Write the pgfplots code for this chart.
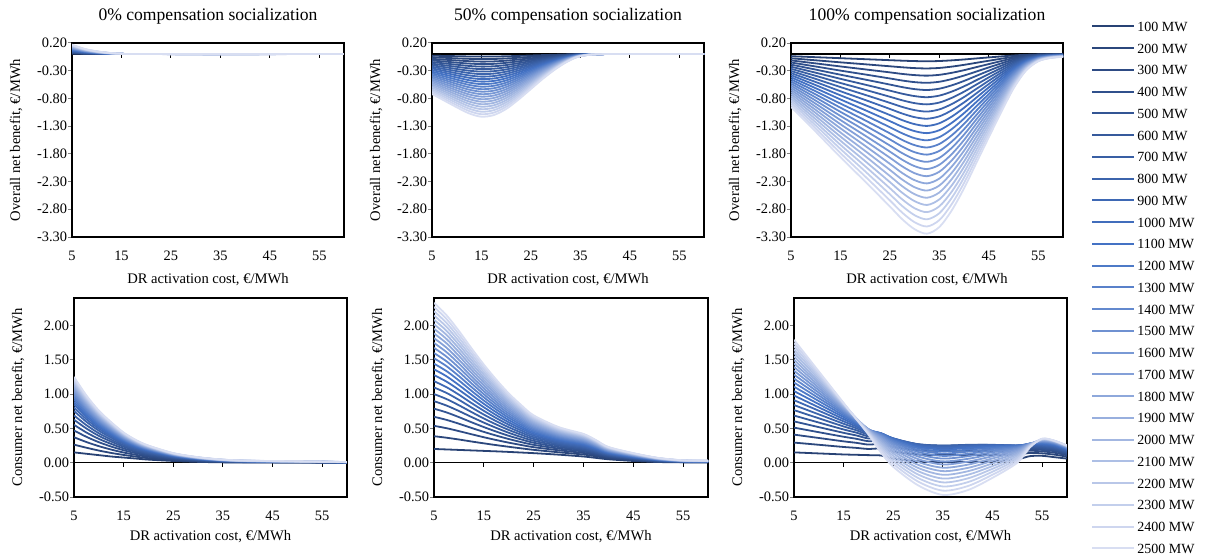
\documentclass[border=0pt]{standalone}
\usepackage{fontspec}
\setmainfont{Liberation Serif}
\usepackage{pgfplots}
\usepackage{pgfplotstable}
\pgfplotsset{compat=1.18}

\definecolor{cdark}{RGB}{40,66,116}
\definecolor{cmid}{RGB}{68,114,196}
\definecolor{clight}{RGB}{216,222,242}
\colorlet{c1}{cdark}
\colorlet{c2}{cmid!10!cdark}
\colorlet{c3}{cmid!20!cdark}
\colorlet{c4}{cmid!30!cdark}
\colorlet{c5}{cmid!40!cdark}
\colorlet{c6}{cmid!50!cdark}
\colorlet{c7}{cmid!60!cdark}
\colorlet{c8}{cmid!70!cdark}
\colorlet{c9}{cmid!80!cdark}
\colorlet{c10}{cmid!90!cdark}
\colorlet{c11}{cmid}
\colorlet{c12}{clight!7!cmid}
\colorlet{c13}{clight!14!cmid}
\colorlet{c14}{clight!21!cmid}
\colorlet{c15}{clight!29!cmid}
\colorlet{c16}{clight!36!cmid}
\colorlet{c17}{clight!43!cmid}
\colorlet{c18}{clight!50!cmid}
\colorlet{c19}{clight!57!cmid}
\colorlet{c20}{clight!64!cmid}
\colorlet{c21}{clight!71!cmid}
\colorlet{c22}{clight!79!cmid}
\colorlet{c23}{clight!86!cmid}
\colorlet{c24}{clight!93!cmid}
\colorlet{c25}{clight}

% overall net benefit, 0% socialization
\pgfplotstableread{
x y1 y2 y3 y4 y5 y6 y7 y8 y9 y10 y11 y12 y13 y14 y15 y16 y17 y18 y19 y20 y21 y22 y23 y24 y25
5 0.007 0.014 0.020 0.027 0.034 0.041 0.048 0.054 0.061 0.068 0.075 0.082 0.088 0.095 0.102 0.109 0.116 0.122 0.129 0.136 0.143 0.150 0.156 0.163 0.170
7.5 0.004 0.008 0.011 0.015 0.019 0.023 0.027 0.030 0.034 0.038 0.042 0.046 0.049 0.053 0.057 0.061 0.065 0.068 0.072 0.076 0.080 0.084 0.087 0.091 0.095
10 0.002 0.004 0.006 0.008 0.010 0.012 0.014 0.016 0.018 0.020 0.022 0.024 0.026 0.028 0.030 0.032 0.034 0.036 0.038 0.040 0.042 0.044 0.046 0.048 0.050
12.5 0.001 0.002 0.003 0.004 0.004 0.005 0.006 0.007 0.008 0.009 0.010 0.011 0.011 0.012 0.013 0.014 0.015 0.016 0.017 0.018 0.018 0.019 0.020 0.021 0.022
15 0 0.001 0.001 0.001 0.002 0.002 0.002 0.003 0.003 0.003 0.004 0.004 0.004 0.004 0.005 0.005 0.005 0.006 0.006 0.006 0.007 0.007 0.007 0.008 0.008
20 0 0 0 0 0 0 0 0 0 0 0 0 0 0 0 0 0 0 0 0 0 0 0 0 0
60 0 0 0 0 0 0 0 0 0 0 0 0 0 0 0 0 0 0 0 0 0 0 0 0 0
}\tA

% overall net benefit, 50% socialization
\pgfplotstableread{
x y1 y2 y3 y4 y5 y6 y7 y8 y9 y10 y11 y12 y13 y14 y15 y16 y17 y18 y19 y20 y21 y22 y23 y24 y25
5 -0.029 -0.058 -0.086 -0.115 -0.144 -0.173 -0.202 -0.230 -0.259 -0.288 -0.317 -0.346 -0.374 -0.403 -0.432 -0.461 -0.490 -0.518 -0.547 -0.576 -0.605 -0.634 -0.662 -0.691 -0.720
7.5 -0.034 -0.067 -0.101 -0.134 -0.168 -0.202 -0.235 -0.269 -0.302 -0.336 -0.370 -0.403 -0.437 -0.470 -0.504 -0.538 -0.571 -0.605 -0.638 -0.672 -0.706 -0.739 -0.773 -0.806 -0.840
10 -0.038 -0.077 -0.115 -0.154 -0.192 -0.230 -0.269 -0.307 -0.346 -0.384 -0.422 -0.461 -0.499 -0.538 -0.576 -0.614 -0.653 -0.691 -0.730 -0.768 -0.806 -0.845 -0.883 -0.922 -0.960
12.5 -0.043 -0.086 -0.128 -0.171 -0.214 -0.257 -0.300 -0.342 -0.385 -0.428 -0.471 -0.514 -0.556 -0.599 -0.642 -0.685 -0.728 -0.770 -0.813 -0.856 -0.899 -0.942 -0.984 -1.027 -1.070
15 -0.045 -0.090 -0.136 -0.181 -0.226 -0.271 -0.316 -0.362 -0.407 -0.452 -0.497 -0.542 -0.588 -0.633 -0.678 -0.723 -0.768 -0.814 -0.859 -0.904 -0.949 -0.994 -1.040 -1.085 -1.130
17.5 -0.044 -0.088 -0.132 -0.176 -0.220 -0.264 -0.308 -0.352 -0.396 -0.440 -0.484 -0.528 -0.572 -0.616 -0.660 -0.704 -0.748 -0.792 -0.836 -0.880 -0.924 -0.968 -1.012 -1.056 -1.100
20 -0.040 -0.079 -0.119 -0.158 -0.198 -0.238 -0.277 -0.317 -0.356 -0.396 -0.436 -0.475 -0.515 -0.554 -0.594 -0.634 -0.673 -0.713 -0.752 -0.792 -0.832 -0.871 -0.911 -0.950 -0.990
22.5 -0.033 -0.066 -0.098 -0.131 -0.164 -0.197 -0.230 -0.262 -0.295 -0.328 -0.361 -0.394 -0.426 -0.459 -0.492 -0.525 -0.558 -0.590 -0.623 -0.656 -0.689 -0.722 -0.754 -0.787 -0.820
25 -0.025 -0.050 -0.076 -0.101 -0.126 -0.151 -0.176 -0.202 -0.227 -0.252 -0.277 -0.302 -0.328 -0.353 -0.378 -0.403 -0.428 -0.454 -0.479 -0.504 -0.529 -0.554 -0.580 -0.605 -0.630
27.5 -0.018 -0.035 -0.053 -0.070 -0.088 -0.106 -0.123 -0.141 -0.158 -0.176 -0.194 -0.211 -0.229 -0.246 -0.264 -0.282 -0.299 -0.317 -0.334 -0.352 -0.370 -0.387 -0.405 -0.422 -0.440
30 -0.011 -0.022 -0.032 -0.043 -0.054 -0.065 -0.076 -0.086 -0.097 -0.108 -0.119 -0.130 -0.140 -0.151 -0.162 -0.173 -0.184 -0.194 -0.205 -0.216 -0.227 -0.238 -0.248 -0.259 -0.270
32.5 -0.005 -0.010 -0.016 -0.021 -0.026 -0.031 -0.036 -0.042 -0.047 -0.052 -0.057 -0.062 -0.068 -0.073 -0.078 -0.083 -0.088 -0.094 -0.099 -0.104 -0.109 -0.114 -0.120 -0.125 -0.130
35 -0.002 -0.003 -0.005 -0.006 -0.008 -0.010 -0.011 -0.013 -0.014 -0.016 -0.018 -0.019 -0.021 -0.022 -0.024 -0.026 -0.027 -0.029 -0.030 -0.032 -0.034 -0.035 -0.037 -0.038 -0.040
40 0 0 0 0 0 0 0 0 0 0 0 0 0 0 0 0 0 0 0 0 0 0 0 0 0
60 0 0 0 0 0 0 0 0 0 0 0 0 0 0 0 0 0 0 0 0 0 0 0 0 0
}\tB

% overall net benefit, 100% socialization
\pgfplotstableread{
x y1 y2 y3 y4 y5 y6 y7 y8 y9 y10 y11 y12 y13 y14 y15 y16 y17 y18 y19 y20 y21 y22 y23 y24 y25
5 -0.038 -0.076 -0.114 -0.152 -0.190 -0.228 -0.266 -0.304 -0.342 -0.380 -0.418 -0.456 -0.494 -0.532 -0.570 -0.608 -0.646 -0.684 -0.722 -0.760 -0.798 -0.836 -0.874 -0.912 -0.950
10 -0.056 -0.112 -0.168 -0.224 -0.280 -0.336 -0.392 -0.448 -0.504 -0.560 -0.616 -0.672 -0.728 -0.784 -0.840 -0.896 -0.952 -1.008 -1.064 -1.120 -1.176 -1.232 -1.288 -1.344 -1.400
15 -0.074 -0.149 -0.223 -0.298 -0.372 -0.446 -0.521 -0.595 -0.670 -0.744 -0.818 -0.893 -0.967 -1.042 -1.116 -1.190 -1.265 -1.339 -1.414 -1.488 -1.562 -1.637 -1.711 -1.786 -1.860
20 -0.092 -0.184 -0.276 -0.368 -0.460 -0.552 -0.644 -0.736 -0.828 -0.920 -1.012 -1.104 -1.196 -1.288 -1.380 -1.472 -1.564 -1.656 -1.748 -1.840 -1.932 -2.024 -2.116 -2.208 -2.300
25 -0.110 -0.220 -0.330 -0.440 -0.550 -0.660 -0.770 -0.880 -0.990 -1.100 -1.210 -1.320 -1.430 -1.540 -1.650 -1.760 -1.870 -1.980 -2.090 -2.200 -2.310 -2.420 -2.530 -2.640 -2.750
27.5 -0.119 -0.238 -0.358 -0.477 -0.596 -0.715 -0.834 -0.954 -1.073 -1.192 -1.311 -1.430 -1.550 -1.669 -1.788 -1.907 -2.026 -2.146 -2.265 -2.384 -2.503 -2.622 -2.742 -2.861 -2.980
30 -0.126 -0.253 -0.379 -0.506 -0.632 -0.758 -0.885 -1.011 -1.138 -1.264 -1.390 -1.517 -1.643 -1.770 -1.896 -2.022 -2.149 -2.275 -2.402 -2.528 -2.654 -2.781 -2.907 -3.034 -3.160
32.5 -0.130 -0.259 -0.389 -0.518 -0.648 -0.778 -0.907 -1.037 -1.166 -1.296 -1.426 -1.555 -1.685 -1.814 -1.944 -2.074 -2.203 -2.333 -2.462 -2.592 -2.722 -2.851 -2.981 -3.110 -3.240
35 -0.125 -0.250 -0.374 -0.499 -0.624 -0.749 -0.874 -0.998 -1.123 -1.248 -1.373 -1.498 -1.622 -1.747 -1.872 -1.997 -2.122 -2.246 -2.371 -2.496 -2.621 -2.746 -2.870 -2.995 -3.120
37.5 -0.113 -0.226 -0.338 -0.451 -0.564 -0.677 -0.790 -0.902 -1.015 -1.128 -1.241 -1.354 -1.466 -1.579 -1.692 -1.805 -1.918 -2.030 -2.143 -2.256 -2.369 -2.482 -2.594 -2.707 -2.820
40 -0.097 -0.194 -0.290 -0.387 -0.484 -0.581 -0.678 -0.774 -0.871 -0.968 -1.065 -1.162 -1.258 -1.355 -1.452 -1.549 -1.646 -1.742 -1.839 -1.936 -2.033 -2.130 -2.226 -2.323 -2.420
42.5 -0.078 -0.157 -0.235 -0.314 -0.392 -0.470 -0.549 -0.627 -0.706 -0.784 -0.862 -0.941 -1.019 -1.098 -1.176 -1.254 -1.333 -1.411 -1.490 -1.568 -1.646 -1.725 -1.803 -1.882 -1.960
45 -0.060 -0.120 -0.180 -0.240 -0.300 -0.360 -0.420 -0.480 -0.540 -0.600 -0.660 -0.720 -0.780 -0.840 -0.900 -0.960 -1.020 -1.080 -1.140 -1.200 -1.260 -1.320 -1.380 -1.440 -1.500
47.5 -0.042 -0.084 -0.126 -0.168 -0.210 -0.252 -0.294 -0.336 -0.378 -0.420 -0.462 -0.504 -0.546 -0.588 -0.630 -0.672 -0.714 -0.756 -0.798 -0.840 -0.882 -0.924 -0.966 -1.008 -1.050
50 -0.025 -0.050 -0.074 -0.099 -0.124 -0.149 -0.174 -0.198 -0.223 -0.248 -0.273 -0.298 -0.322 -0.347 -0.372 -0.397 -0.422 -0.446 -0.471 -0.496 -0.521 -0.546 -0.570 -0.595 -0.620
52.5 -0.012 -0.024 -0.036 -0.048 -0.060 -0.072 -0.084 -0.096 -0.108 -0.120 -0.132 -0.144 -0.156 -0.168 -0.180 -0.192 -0.204 -0.216 -0.228 -0.240 -0.252 -0.264 -0.276 -0.288 -0.300
55 -0.005 -0.010 -0.016 -0.021 -0.026 -0.031 -0.036 -0.042 -0.047 -0.052 -0.057 -0.062 -0.068 -0.073 -0.078 -0.083 -0.088 -0.094 -0.099 -0.104 -0.109 -0.114 -0.120 -0.125 -0.130
57.5 -0.003 -0.006 -0.008 -0.011 -0.014 -0.017 -0.020 -0.022 -0.025 -0.028 -0.031 -0.034 -0.036 -0.039 -0.042 -0.045 -0.048 -0.050 -0.053 -0.056 -0.059 -0.062 -0.064 -0.067 -0.070
60 -0.002 -0.004 -0.006 -0.008 -0.010 -0.012 -0.014 -0.016 -0.018 -0.020 -0.022 -0.024 -0.026 -0.028 -0.030 -0.032 -0.034 -0.036 -0.038 -0.040 -0.042 -0.044 -0.046 -0.048 -0.050
}\tC

% consumer net benefit, 0% socialization
\pgfplotstableread{
x y1 y2 y3 y4 y5 y6 y7 y8 y9 y10 y11 y12 y13 y14 y15 y16 y17 y18 y19 y20 y21 y22 y23 y24 y25
5 0.150 0.263 0.371 0.469 0.552 0.626 0.689 0.753 0.802 0.846 0.885 0.920 0.953 0.983 1.011 1.039 1.065 1.091 1.115 1.138 1.161 1.184 1.206 1.228 1.250
7.5 0.130 0.218 0.301 0.377 0.440 0.498 0.547 0.596 0.634 0.668 0.698 0.725 0.751 0.773 0.796 0.817 0.837 0.857 0.875 0.893 0.911 0.929 0.946 0.963 0.980
10 0.110 0.177 0.241 0.299 0.347 0.391 0.429 0.466 0.495 0.521 0.544 0.565 0.585 0.602 0.619 0.635 0.651 0.666 0.680 0.694 0.707 0.721 0.734 0.747 0.760
12.5 0.090 0.142 0.191 0.235 0.273 0.307 0.335 0.364 0.387 0.407 0.424 0.440 0.455 0.469 0.482 0.494 0.506 0.518 0.529 0.539 0.550 0.560 0.570 0.580 0.590
15 0.075 0.113 0.148 0.181 0.208 0.233 0.254 0.275 0.291 0.306 0.319 0.331 0.341 0.351 0.361 0.370 0.379 0.387 0.395 0.403 0.410 0.418 0.425 0.433 0.440
17.5 0.060 0.088 0.114 0.138 0.159 0.177 0.192 0.208 0.220 0.231 0.240 0.249 0.257 0.264 0.271 0.278 0.285 0.291 0.297 0.302 0.308 0.314 0.319 0.325 0.330
20 0.045 0.066 0.086 0.104 0.120 0.134 0.145 0.157 0.167 0.175 0.182 0.189 0.195 0.200 0.206 0.211 0.216 0.220 0.225 0.229 0.233 0.238 0.242 0.246 0.250
25 0.025 0.037 0.048 0.058 0.067 0.075 0.081 0.088 0.093 0.098 0.102 0.106 0.109 0.112 0.115 0.118 0.121 0.123 0.126 0.128 0.131 0.133 0.135 0.138 0.140
30 0.012 0.019 0.026 0.032 0.037 0.041 0.045 0.049 0.052 0.055 0.057 0.060 0.062 0.063 0.065 0.067 0.069 0.070 0.072 0.073 0.074 0.076 0.077 0.079 0.080
35 0.005 0.009 0.013 0.017 0.020 0.022 0.025 0.027 0.029 0.030 0.032 0.033 0.034 0.035 0.036 0.037 0.038 0.039 0.040 0.041 0.042 0.043 0.043 0.044 0.045
40 0.003 0.006 0.008 0.011 0.013 0.015 0.016 0.018 0.019 0.020 0.021 0.022 0.023 0.023 0.024 0.025 0.025 0.026 0.027 0.027 0.028 0.028 0.029 0.029 0.030
50 0.002 0.004 0.006 0.007 0.009 0.010 0.011 0.012 0.013 0.013 0.014 0.015 0.015 0.016 0.016 0.017 0.017 0.017 0.018 0.018 0.019 0.019 0.019 0.020 0.020
60 0.000 0.001 0.002 0.003 0.004 0.004 0.005 0.005 0.006 0.006 0.007 0.007 0.007 0.008 0.008 0.008 0.008 0.009 0.009 0.009 0.009 0.009 0.010 0.010 0.010
}\tD

% consumer net benefit, 50% socialization
\pgfplotstableread{
x y1 y2 y3 y4 y5 y6 y7 y8 y9 y10 y11 y12 y13 y14 y15 y16 y17 y18 y19 y20 y21 y22 y23 y24 y25
5 0.200 0.386 0.537 0.669 0.787 0.897 1.000 1.096 1.188 1.277 1.361 1.443 1.522 1.598 1.673 1.745 1.815 1.884 1.952 2.018 2.083 2.146 2.209 2.270 2.330
7.5 0.193 0.364 0.503 0.624 0.733 0.833 0.928 1.017 1.101 1.182 1.260 1.335 1.407 1.478 1.546 1.612 1.677 1.741 1.803 1.863 1.923 1.981 2.038 2.095 2.150
10 0.186 0.338 0.460 0.568 0.664 0.753 0.837 0.916 0.991 1.062 1.131 1.198 1.262 1.324 1.385 1.444 1.501 1.557 1.612 1.666 1.719 1.770 1.821 1.871 1.920
12.5 0.179 0.309 0.415 0.507 0.590 0.667 0.739 0.806 0.871 0.933 0.992 1.049 1.104 1.158 1.210 1.260 1.310 1.358 1.405 1.452 1.497 1.541 1.585 1.628 1.670
15 0.172 0.282 0.371 0.449 0.519 0.584 0.644 0.701 0.756 0.808 0.858 0.906 0.953 0.998 1.042 1.084 1.126 1.167 1.207 1.246 1.284 1.321 1.358 1.394 1.430
17.5 0.165 0.256 0.330 0.395 0.453 0.507 0.557 0.605 0.650 0.693 0.735 0.775 0.813 0.851 0.887 0.923 0.958 0.991 1.025 1.057 1.089 1.120 1.150 1.180 1.210
20 0.157 0.232 0.292 0.345 0.392 0.436 0.477 0.516 0.553 0.588 0.622 0.655 0.686 0.717 0.747 0.776 0.804 0.832 0.859 0.885 0.911 0.936 0.961 0.986 1.010
22.5 0.148 0.209 0.258 0.300 0.339 0.374 0.408 0.439 0.469 0.498 0.525 0.552 0.577 0.602 0.626 0.650 0.673 0.695 0.717 0.739 0.760 0.780 0.801 0.820 0.840
25 0.139 0.187 0.226 0.260 0.291 0.319 0.346 0.371 0.395 0.418 0.439 0.461 0.481 0.501 0.520 0.539 0.557 0.575 0.592 0.609 0.626 0.642 0.659 0.674 0.690
30 0.117 0.152 0.181 0.206 0.228 0.249 0.268 0.287 0.304 0.321 0.337 0.352 0.367 0.382 0.396 0.409 0.423 0.436 0.448 0.461 0.473 0.485 0.497 0.509 0.520
35 0.090 0.119 0.142 0.163 0.181 0.198 0.214 0.229 0.243 0.257 0.270 0.283 0.295 0.307 0.318 0.329 0.340 0.351 0.361 0.372 0.382 0.392 0.401 0.411 0.420
37.5 0.070 0.093 0.111 0.127 0.142 0.155 0.168 0.179 0.191 0.201 0.212 0.222 0.231 0.241 0.250 0.259 0.267 0.276 0.284 0.292 0.300 0.308 0.315 0.323 0.330
40 0.050 0.066 0.079 0.090 0.100 0.109 0.118 0.126 0.134 0.141 0.148 0.155 0.162 0.168 0.174 0.181 0.187 0.192 0.198 0.204 0.209 0.215 0.220 0.225 0.230
45 0.025 0.035 0.043 0.050 0.057 0.063 0.068 0.073 0.078 0.083 0.088 0.092 0.096 0.101 0.105 0.108 0.112 0.116 0.120 0.123 0.127 0.130 0.133 0.137 0.140
50 0.010 0.015 0.019 0.023 0.027 0.030 0.033 0.035 0.038 0.040 0.043 0.045 0.047 0.049 0.051 0.054 0.056 0.057 0.059 0.061 0.063 0.065 0.067 0.068 0.070
55 0.005 0.008 0.010 0.012 0.013 0.015 0.016 0.018 0.019 0.020 0.021 0.023 0.024 0.025 0.026 0.027 0.028 0.029 0.030 0.031 0.032 0.032 0.033 0.034 0.035
60 0.005 0.007 0.009 0.011 0.012 0.013 0.014 0.016 0.017 0.018 0.019 0.020 0.021 0.021 0.022 0.023 0.024 0.025 0.026 0.026 0.027 0.028 0.029 0.029 0.030
}\tE

% consumer net benefit, 100% socialization
\pgfplotstableread{
x y1 y2 y3 y4 y5 y6 y7 y8 y9 y10 y11 y12 y13 y14 y15 y16 y17 y18 y19 y20 y21 y22 y23 y24 y25
5 0.150 0.293 0.409 0.511 0.602 0.687 0.766 0.840 0.911 0.979 1.044 1.107 1.168 1.226 1.284 1.339 1.394 1.447 1.499 1.550 1.600 1.648 1.697 1.744 1.790
10 0.135 0.261 0.360 0.444 0.518 0.585 0.647 0.704 0.757 0.806 0.853 0.898 0.940 0.980 1.019 1.056 1.091 1.125 1.157 1.189 1.219 1.248 1.276 1.304 1.330
15 0.120 0.229 0.311 0.378 0.435 0.484 0.528 0.567 0.602 0.634 0.663 0.689 0.713 0.734 0.754 0.772 0.788 0.802 0.816 0.828 0.838 0.848 0.856 0.864 0.870
17.5 0.115 0.216 0.290 0.349 0.398 0.439 0.474 0.504 0.530 0.553 0.572 0.589 0.603 0.615 0.625 0.633 0.640 0.644 0.648 0.649 0.650 0.649 0.647 0.644 0.640
20 0.110 0.200 0.264 0.313 0.353 0.384 0.410 0.431 0.448 0.462 0.472 0.479 0.485 0.487 0.488 0.487 0.484 0.480 0.474 0.466 0.457 0.447 0.436 0.424 0.410
22.5 0.105 0.206 0.273 0.323 0.359 0.386 0.406 0.419 0.427 0.430 0.430 0.426 0.418 0.408 0.394 0.379 0.361 0.341 0.319 0.295 0.269 0.242 0.213 0.182 0.150
25 0.060 0.162 0.229 0.276 0.308 0.331 0.346 0.353 0.355 0.352 0.344 0.333 0.318 0.299 0.278 0.254 0.227 0.198 0.167 0.134 0.099 0.062 0.023 -0.018 -0.060
30 0.020 0.119 0.181 0.222 0.248 0.263 0.270 0.269 0.262 0.249 0.232 0.211 0.185 0.157 0.125 0.090 0.052 0.012 -0.031 -0.076 -0.123 -0.172 -0.223 -0.275 -0.330
35 0.010 0.111 0.173 0.212 0.235 0.247 0.250 0.245 0.233 0.215 0.192 0.165 0.134 0.099 0.060 0.019 -0.026 -0.073 -0.123 -0.176 -0.231 -0.287 -0.346 -0.407 -0.470
40 0.010 0.112 0.175 0.215 0.241 0.255 0.260 0.257 0.248 0.233 0.214 0.190 0.161 0.129 0.094 0.056 0.015 -0.029 -0.076 -0.125 -0.176 -0.229 -0.284 -0.341 -0.400
45 0.020 0.111 0.168 0.207 0.233 0.249 0.258 0.260 0.257 0.248 0.236 0.220 0.200 0.178 0.153 0.125 0.094 0.062 0.027 -0.010 -0.049 -0.089 -0.131 -0.175 -0.220
50 0.050 0.118 0.163 0.194 0.217 0.233 0.243 0.250 0.252 0.251 0.247 0.241 0.232 0.221 0.209 0.194 0.178 0.160 0.141 0.121 0.099 0.076 0.052 0.026 0.000
52.5 0.095 0.142 0.175 0.200 0.219 0.235 0.248 0.257 0.265 0.271 0.275 0.277 0.279 0.279 0.277 0.275 0.272 0.268 0.263 0.258 0.252 0.245 0.237 0.229 0.220
55 0.100 0.136 0.164 0.186 0.205 0.221 0.236 0.249 0.261 0.271 0.281 0.290 0.298 0.305 0.311 0.317 0.323 0.327 0.332 0.336 0.340 0.343 0.345 0.348 0.350
57.5 0.080 0.117 0.145 0.167 0.186 0.203 0.217 0.230 0.241 0.251 0.260 0.269 0.276 0.283 0.289 0.294 0.299 0.303 0.307 0.310 0.313 0.315 0.317 0.319 0.320
60 0.060 0.088 0.109 0.126 0.140 0.153 0.164 0.174 0.183 0.191 0.198 0.205 0.211 0.216 0.221 0.226 0.230 0.233 0.237 0.240 0.242 0.245 0.247 0.248 0.250
}\tF

\pgfplotsset{
  every axis title/.style={at={([yshift=13.5pt]axis description cs:0.5,1)},anchor=center,font=\fontsize{8.8}{10}\selectfont},
  panel/.style={
    scale only axis,
    xmin=5, xmax=60,
    xtick={5,15,25,35,45,55},
    xtick style={draw=none},
    ytick pos=left,
    tick align=outside,
    major tick length=1.8pt,
    axis line style={line width=0.8pt},
    ytick style={line width=0.5pt},
    ticklabel style={font=\fontsize{7.2}{8}\selectfont},
    xticklabel style={yshift=-1.5pt,/pgf/number format/assume math mode=true},
    yticklabel style={inner sep=0.5pt,/pgf/number format/.cd,fixed,fixed zerofill,precision=2,assume math mode=true},
    xlabel={DR activation cost, €/MWh},
    xlabel style={at={([yshift=-20pt]axis description cs:0.5,0)},anchor=center,font=\fontsize{7.3}{8}\selectfont},
    ylabel style={at={([xshift=-28pt]axis description cs:0,0.5)},anchor=center,font=\fontsize{7.3}{8}\selectfont},
    every axis plot/.append style={line width=0.9pt,no markers,smooth},
  },
  toprow/.style={panel,width=136pt,height=97pt,ymin=-3.3,ymax=0.2,
    ytick={-3.3,-2.8,-2.3,-1.8,-1.3,-0.8,-0.3,0.2},
    ylabel={Overall net benefit, €/MWh},
    xlabel style={at={([yshift=-21.5pt]axis description cs:0.5,0)}}},
  botrow/.style={panel,width=136.5pt,height=99.5pt,ymin=-0.5,ymax=2.4,
    ytick={-0.5,0,0.5,1,1.5,2},
    ylabel={Consumer net benefit, €/MWh}},
}

\newcommand{\zeroaxis}{%
  \draw[line width=0.8pt] (axis cs:5,0) -- (axis cs:60,0);
  \pgfplotsinvokeforeach{15,25,35,45,55}{\draw[line width=0.5pt] (axis cs:##1,0) -- ++(0pt,-2pt);}
}

\begin{document}
\begin{tikzpicture}
\path[use as bounding box] (0,0) rectangle (602.5pt,279pt);

\begin{axis}[toprow,at={(36pt,160.5pt)},anchor=south west,title={0\% compensation socialization}]
\zeroaxis
\pgfplotsinvokeforeach{1,...,25}{\addplot[c#1] table[x=x,y=y#1]{\tA};}
\end{axis}

\begin{axis}[toprow,at={(216pt,160.5pt)},anchor=south west,title={50\% compensation socialization}]
\zeroaxis
\pgfplotsinvokeforeach{1,...,25}{\addplot[c#1] table[x=x,y=y#1]{\tB};}
\end{axis}

\begin{axis}[toprow,at={(395.5pt,160.5pt)},anchor=south west,title={100\% compensation socialization},
  legend entries={100 MW,200 MW,300 MW,400 MW,500 MW,600 MW,700 MW,800 MW,900 MW,1000 MW,1100 MW,1200 MW,1300 MW,1400 MW,1500 MW,1600 MW,1700 MW,1800 MW,1900 MW,2000 MW,2100 MW,2200 MW,2300 MW,2400 MW,2500 MW},
  legend cell align=left,
  legend image code/.code={\draw[#1,line width=1pt] (0pt,0pt) -- (21pt,0pt);},
  legend style={at={(axis description cs:1.103,1.1237)},anchor=north west,draw=none,fill=none,
    inner sep=0pt,row sep=3.875pt,font=\fontsize{7}{8}\selectfont,
    nodes={inner sep=1pt,text height=5pt,text depth=0pt}},
]
\zeroaxis
\pgfplotsinvokeforeach{1,...,25}{\addplot[c#1] table[x=x,y=y#1]{\tC};}
\end{axis}

\begin{axis}[botrow,at={(37pt,30.5pt)},anchor=south west]
\zeroaxis
\pgfplotsinvokeforeach{1,...,25}{\addplot[c#1] table[x=x,y=y#1]{\tD};}
\end{axis}

\begin{axis}[botrow,width=137pt,at={(217pt,30.5pt)},anchor=south west]
\zeroaxis
\pgfplotsinvokeforeach{1,...,25}{\addplot[c#1] table[x=x,y=y#1]{\tE};}
\end{axis}

\begin{axis}[botrow,at={(397pt,30.5pt)},anchor=south west]
\zeroaxis
\pgfplotsinvokeforeach{1,...,25}{\addplot[c#1] table[x=x,y=y#1]{\tF};}
\end{axis}
\end{tikzpicture}
\end{document}
